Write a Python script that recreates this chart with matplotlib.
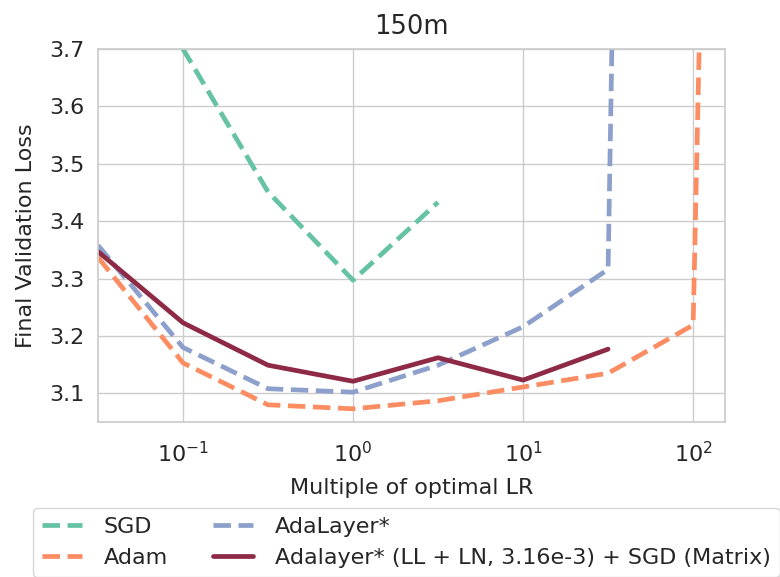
import numpy as np
import matplotlib
matplotlib.use("Agg")
from matplotlib import pyplot as plt
import seaborn as sns

sns.set_theme(style="whitegrid")
plt.rcParams['font.family'] = ['DejaVu Sans']

# 学习率倍数
lr_mult = [10 ** -1.5, 10 ** -1, 10 ** -0.5, 1, 10 ** 0.5, 10, 10 ** 1.5, 100, 10 ** 2.5]
# 各优化器的最终验证损失
sgd_lr = [10 ** -1.5, 10 ** -1, 10 ** -0.5, 1, 10 ** 0.5]
sgd_loss = [4.3, 3.70, 3.451, 3.297, 3.433]
adam_loss = [3.337, 3.153, 3.080, 3.073, 3.087, 3.111, 3.135, 3.219, 10.0]
adalayer_lr = lr_mult[:8]
adalayer_loss = [3.358, 3.180, 3.108, 3.102, 3.149, 3.216, 3.316, 12.0]
hybrid_lr = lr_mult[:7]
hybrid_loss = [3.347, 3.223, 3.149, 3.121, 3.162, 3.123, 3.177]

fig = plt.figure(figsize=(7.8, 5.77), dpi=100)
ax = fig.add_axes([0.1256, 0.2686, 0.8039, 0.6465])

ax.plot(sgd_lr, sgd_loss, '--', color='#66c2a5', lw=3.4, label='SGD')
ax.plot(lr_mult, adam_loss, '--', color='#fc8d62', lw=3.4, label='Adam')
ax.plot(adalayer_lr, adalayer_loss, '--', color='#8da0cb', lw=3.4, label='AdaLayer*')
ax.plot(hybrid_lr, hybrid_loss, '-', color='#8e2a46', lw=3.4,
        label='Adalayer* (LL + LN, 3.16e-3) + SGD (Matrix)')

ax.set_xscale('log')
ax.set_xlim(10 ** -1.5, 154)
ax.set_ylim(3.05, 3.7)
ax.set_yticks([3.1, 3.2, 3.3, 3.4, 3.5, 3.6, 3.7])
ax.tick_params(labelsize=16)
ax.tick_params(axis='x', pad=8)
ax.set_xlabel('Multiple of optimal LR', fontsize=16, labelpad=8)
ax.set_ylabel('Final Validation Loss', fontsize=16, labelpad=10)
ax.set_title('150m', fontsize=18.5, pad=11)

fig.legend(loc='upper left', bbox_to_anchor=(0.042, 0.1196), ncol=2,
           fontsize=16, handlelength=1.8, handletextpad=1.0,
           columnspacing=2.0, frameon=True, borderaxespad=0)

fig.savefig('out.png', dpi=100)
